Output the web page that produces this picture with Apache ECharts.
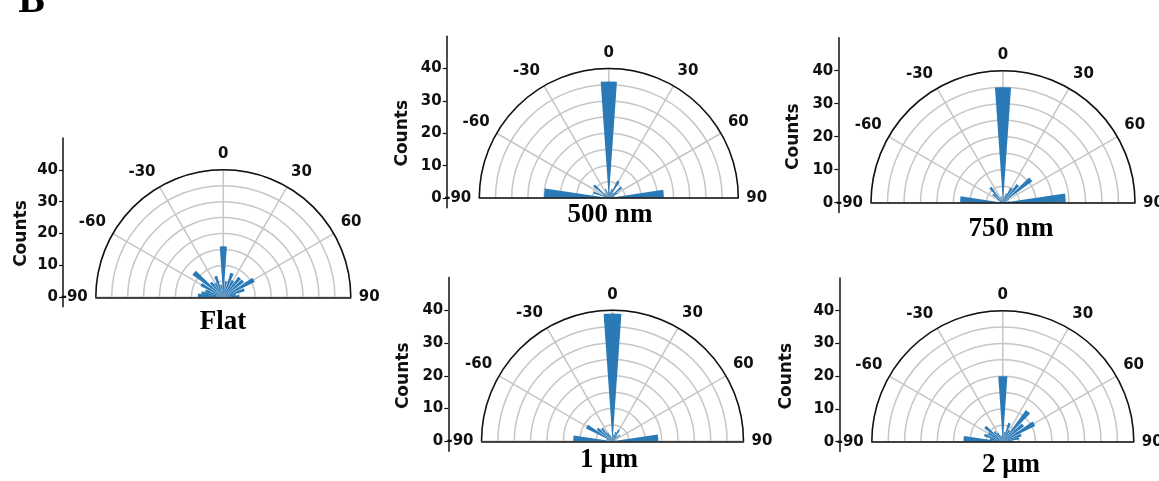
<!DOCTYPE html>
<html>
<head>
<meta charset="utf-8">
<script src="https://cdn.jsdelivr.net/npm/echarts@6.0.0/dist/echarts.min.js"></script>
<style>
html, body { margin: 0; padding: 0; background: #fff; }
#main { width: 1159px; height: 481px; }
</style>
</head>
<body>
<div id="main"></div>
<script>
// bin centres in degrees, shared by every panel
var angles = [-85.5, -78, -70, -60, -50, -40, -30, -20, -10, 0, 10, 20, 30, 40, 50, 60, 70, 78, 85.5];

// counts per bin
var flatCounts  = [8, 7, 6, 8, 12, 6, 5, 7, 4, 16, 5, 8, 6, 8, 8, 11, 7, 4, 5];
var nm500Counts = [20, 0, 5, 2, 6, 2, 1, 3, 2, 36, 2, 3, 6, 2, 5, 3, 2, 0, 17];
var nm750Counts = [13, 1, 1, 2, 4, 6, 1, 2, 1, 35, 2, 3, 5, 7, 11, 2, 1, 2, 19];
var um1Counts   = [12, 1, 2, 9, 6, 5, 3, 2, 1, 39, 2, 3, 4, 2, 3, 1, 1, 0, 14];
var um2Counts   = [12, 4, 6, 5, 7, 4, 3, 2, 2, 20, 3, 6, 4, 12, 8, 11, 6, 5, 3];

var panelNames = ['Flat', '500 nm', '750 nm', '1 μm', '2 μm'];
var countTicks = [0, 10, 20, 30, 40];

var allCounts = [flatCounts, nm500Counts, nm750Counts, um1Counts, um2Counts];

// where each panel sits on the page
var layout = [
    {cx: 223.3, cy: 297.3, r: 127.5, axisX: 63,    gap: 33, tx: 223, ty: 322},
    {cx: 608.8, cy: 198,   r: 129.5, axisX: 446.7, gap: 36, tx: 610, ty: 215},
    {cx: 1003,  cy: 202.7, r: 132,   axisX: 838.3, gap: 36, tx: 1011, ty: 229},
    {cx: 612.5, cy: 441.3, r: 131,   axisX: 448.3, gap: 36, tx: 609, ty: 460},
    {cx: 1002.8, cy: 441.7, r: 131,  axisX: 839.3, gap: 44, tx: 1011, ty: 465}
];

var gridGray = '#c6c6c6';
var ink = '#111';
var sansBold = {color: ink, fontSize: 15, fontWeight: 'bold', fontFamily: 'DejaVu Sans'};

var myChart = echarts.init(document.getElementById('main'));

var option = {
    animation: false,
    backgroundColor: '#fff',
    polar: [],
    angleAxis: [],
    radiusAxis: [],
    grid: [],
    xAxis: [],
    yAxis: [],
    series: [],
    graphic: [{
        type: 'text', x: 31.5, y: 2,
        style: {text: 'B', fill: '#000', font: 'bold 40px "Liberation Serif"', align: 'center', verticalAlign: 'middle'}
    }]
};

layout.forEach(function (p, i) {
    var k = p.r / 40;
    option.polar.push({center: [p.cx, p.cy], radius: [0, p.r]});
    option.angleAxis.push({
        polarIndex: i,
        type: 'value',
        min: -90,
        max: 90,
        interval: 30,
        startAngle: 180,
        endAngle: 0,
        clockwise: true,
        axisLine: {lineStyle: {color: ink, width: 1.5}},
        axisTick: {show: false},
        axisLabel: Object.assign({margin: 8}, sansBold),
        splitLine: {lineStyle: {color: gridGray, width: 1.5}}
    });
    option.radiusAxis.push({
        polarIndex: i,
        type: 'value',
        min: 0,
        max: 40,
        interval: 5,
        axisLine: {show: false},
        axisTick: {show: false},
        axisLabel: {show: false},
        splitLine: {lineStyle: {color: gridGray, width: 1.5}}
    });
    option.grid.push({
        left: p.cx - p.r,
        width: 2 * p.r,
        top: p.cy - 50 * k,
        height: 53 * k,
        outerBoundsMode: 'none'
    });
    // the baseline through the centre
    option.xAxis.push({
        gridIndex: i,
        type: 'value',
        min: -90,
        max: 90,
        z: 5,
        axisLine: {onZero: true, lineStyle: {color: ink, width: 1.5}},
        axisTick: {show: false},
        axisLabel: {show: false},
        splitLine: {show: false}
    });
    option.yAxis.push({
        gridIndex: i,
        type: 'value',
        min: -3,
        max: 50,
        offset: p.cx - p.r - p.axisX,
        name: 'Counts',
        nameLocation: 'middle',
        nameGap: p.gap,
        nameRotate: 90,
        nameTextStyle: {color: ink, fontSize: 17, fontWeight: 'bold', fontFamily: 'DejaVu Sans', padding: [0, 7 * k, 0, 0]},
        axisLine: {show: true, onZero: false, lineStyle: {color: ink, width: 1.5}},
        axisTick: {show: true, length: 4, customValues: countTicks, lineStyle: {color: ink, width: 1.2}},
        axisLabel: Object.assign({margin: 5, customValues: countTicks}, sansBold),
        splitLine: {show: false}
    });
    option.series.push({
        type: 'bar',
        coordinateSystem: 'polar',
        polarIndex: i,
        barWidth: 8,
        itemStyle: {color: '#2a7ab8'},
        data: angles.map(function (a, j) {
            return [allCounts[i][j], a];
        })
    });
    option.graphic.push({
        type: 'text',
        x: p.tx,
        y: p.ty,
        style: {
            text: panelNames[i],
            fill: '#000',
            font: 'bold 27px "Liberation Serif"',
            align: 'center',
            verticalAlign: 'middle'
        }
    });
});

myChart.setOption(option);
</script>
</body>
</html>
